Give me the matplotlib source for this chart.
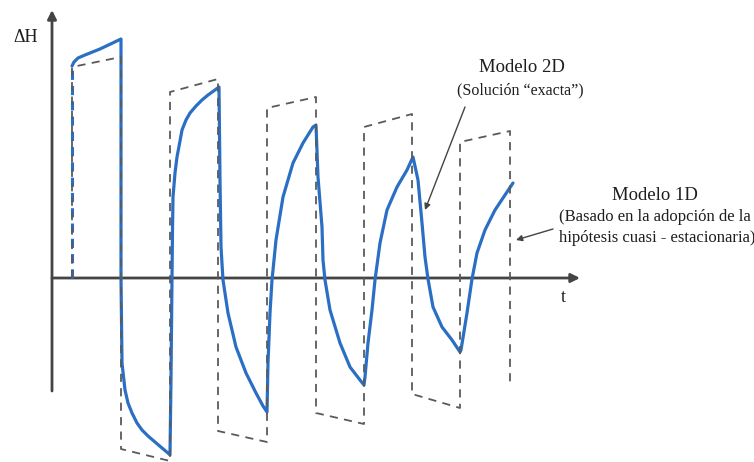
import matplotlib
matplotlib.use("Agg")
import matplotlib.pyplot as plt

# ---- data (t, ΔH in schematic units) ----
switch_t = [72, 121, 170, 218, 267, 316, 364, 412, 460, 510]
dash_start = [211, -171, 186, -153, 170, -135, 151, -116, 136]
dash_end = [221, -183, 199, -164, 181, -146, 164, -130, 147]
dash_final = -108

blue_t = [72, 74, 78, 85, 100, 121,
          121, 122, 125, 128, 132, 137, 142, 148, 155, 162, 168, 170,
          171, 172, 172.5, 173, 175, 177, 180, 182, 186, 190, 196, 202, 208, 215, 219,
          220, 221, 223, 228, 236, 246, 256, 263, 267,
          268, 270, 272, 276, 283, 293, 303, 313, 316,
          318, 322, 323, 325, 330, 340, 350, 360, 364,
          365, 368, 372, 375, 380, 387, 397, 407, 413,
          418, 422, 425, 428, 433, 442, 452, 460,
          461, 467, 472, 477, 485, 495, 505, 513]
blue_h = [212, 216, 220, 223, 229, 239,
          0, -85, -112, -125, -135, -145, -152, -158, -164, -170, -175, -177,
          -100, 0, 48, 81, 105, 121, 137, 148, 158, 165, 172, 178, 183, 188, 191,
          98, 31, -2, -35, -69, -95, -115, -128, -134,
          -85, -35, -2, 38, 81, 115, 135, 151, 153,
          101, 51, 18, -2, -32, -65, -89, -102, -107,
          -99, -65, -32, -2, 35, 68, 91, 108, 121,
          98, 55, 21, -1, -29, -49, -62, -74,
          -72, -35, -1, 25, 48, 68, 83, 95]

BLUE = "#2a6fc4"
GRAY = "#5a5a5a"
AX = "#444444"
TXT = "#1e1e1e"

fig = plt.figure(figsize=(7.54, 4.62), dpi=100)
ax = fig.add_axes([0, 0, 1, 1])
ax.set_xlim(0, 754)
ax.set_ylim(278 - 462, 278)
ax.axis("off")

# axes with arrows
ax.annotate("", xy=(52, 268), xytext=(52, -113),
            arrowprops=dict(arrowstyle="-|>", lw=2.0, color=AX,
                            mutation_scale=13, shrinkA=0, shrinkB=0))
ax.annotate("", xy=(580, 0), xytext=(52, 0),
            arrowprops=dict(arrowstyle="-|>", lw=2.0, color=AX,
                            mutation_scale=13, shrinkA=0, shrinkB=0))

# 1D model (dashed square wave)
dt, dh = [switch_t[0]], [0]
for i in range(len(dash_start)):
    dt += [switch_t[i], switch_t[i + 1]]
    dh += [dash_start[i], dash_end[i]]
dt.append(switch_t[-1])
dh.append(dash_final)

# 2D model (solid blue)
ax.plot([switch_t[0], switch_t[0]], [0, blue_h[0]], color=BLUE, lw=2.2,
        ls=(0, (3, 2)), zorder=3)
ax.plot(blue_t, blue_h, color=BLUE, lw=2.3, solid_joinstyle="round",
        solid_capstyle="round", zorder=3)
ax.plot(dt, dh, color=GRAY, lw=1.3, ls=(0, (4.5, 3.5)), zorder=4)

serif = ["Liberation Serif", "DejaVu Serif"]
ax.text(26, 241, "ΔH", family=serif, fontsize=13, color=TXT,
        ha="center", va="center")
ax.text(563, -20, "t", family=serif, fontsize=13, color=TXT,
        ha="center", va="center")

ax.text(522, 211, "Modelo 2D", family=serif, fontsize=13.5, color=TXT,
        ha="center", va="center")
ax.text(520, 188, "(Solución “exacta”)", family=serif, fontsize=11.5, color=TXT,
        ha="center", va="center")
ax.annotate("", xy=(425, 68), xytext=(465, 171),
            arrowprops=dict(arrowstyle="-|>", lw=1.0, color=AX,
                            mutation_scale=9, shrinkA=0, shrinkB=0))

ax.text(655, 83, "Modelo 1D", family=serif, fontsize=13.5, color=TXT,
        ha="center", va="center")
ax.text(655, 61, "(Basado en la adopción de la", family=serif, fontsize=12,
        color=TXT, ha="center", va="center")
ax.text(657, 40, "hipótesis cuasi - estacionaria)", family=serif, fontsize=12,
        color=TXT, ha="center", va="center")
ax.annotate("", xy=(516, 38), xytext=(553, 49),
            arrowprops=dict(arrowstyle="-|>", lw=1.0, color=AX,
                            mutation_scale=9, shrinkA=0, shrinkB=0))

fig.savefig("out.png", dpi=100)
